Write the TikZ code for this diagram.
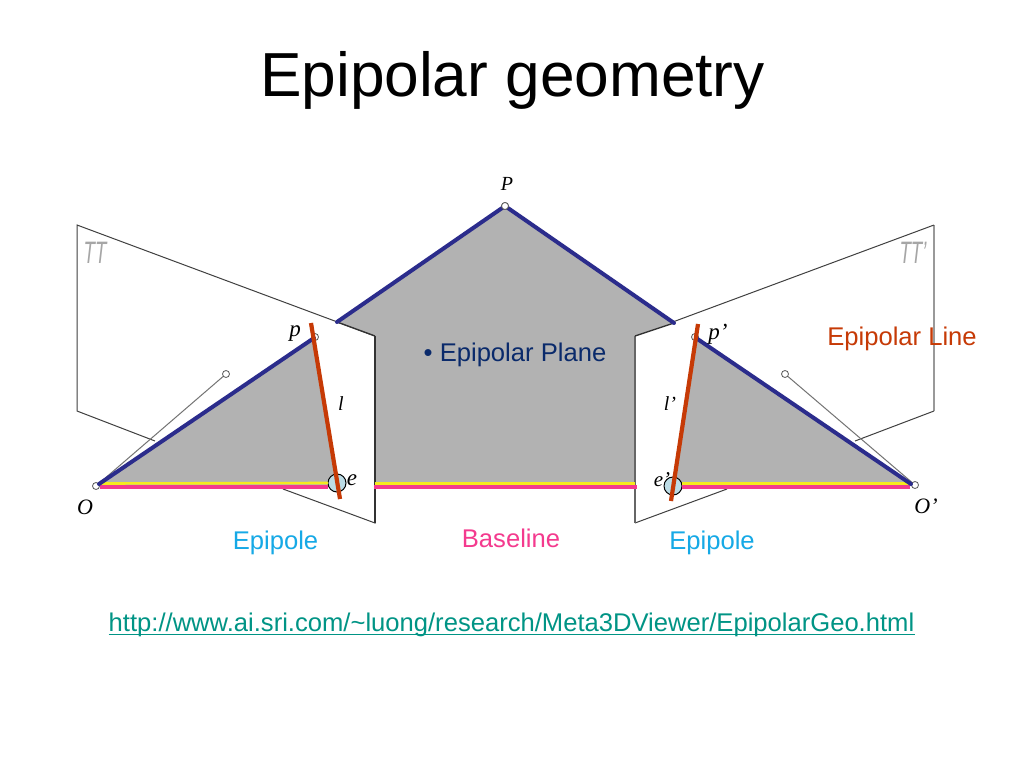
\documentclass[tikz,border=0pt]{standalone}
\usepackage{fontspec}
\setmainfont{Liberation Sans}
\newfontfamily\serifit[ItalicFont={Liberation Serif Italic}]{Liberation Serif}
\definecolor{gplane}{HTML}{B2B2B2}
\definecolor{navy}{HTML}{2B2C8C}
\definecolor{brick}{HTML}{C63A06}
\definecolor{pinkb}{HTML}{F43A8E}
\definecolor{yel}{HTML}{F5EB1E}
\definecolor{skyb}{HTML}{16A9E6}
\definecolor{teal2}{HTML}{009485}
\definecolor{dblue}{HTML}{0A2A6B}
\definecolor{circb}{HTML}{BCDCE6}
\tikzset{x=1pt,y=-1pt,
 frame/.style={draw=black!75,line width=1pt},
 blueln/.style={draw=navy,line width=4pt,line cap=round},
 redln/.style={draw=brick,line width=4.2pt},
 yelln/.style={draw=yel,line width=2.6pt},
 pinkln/.style={draw=pinkb,line width=3.6pt},
 ray/.style={draw=black!55,line width=1pt},
 dotn/.style={circle,draw=black!65,fill=white,line width=0.8pt,inner sep=0pt,minimum size=7pt},
 epin/.style={circle,draw=black,fill=circb,line width=1pt,inner sep=0pt,minimum size=18pt},
 lab/.style={inner sep=0pt,font=\serifit\itshape\fontsize{20}{20}\selectfont},
 piname/.style={inner sep=0pt,text=black!35,font=\fontsize{31}{31}\selectfont\itshape},
 captext/.style={inner sep=0pt,font=\fontsize{25.6}{25.6}\selectfont}}
\begin{document}
\begin{tikzpicture}
\useasboundingbox (0,0) rectangle (1024,768);
\fill[white] (0,0) rectangle (1024,768);
% coordinates
\coordinate (LA) at (77,225); \coordinate (LB) at (375,336); \coordinate (LC) at (375,523); \coordinate (LD) at (77,411);
\coordinate (LE) at (155,441); \coordinate (LF) at (283,489);
\coordinate (RA) at (934,225); \coordinate (RB) at (635,336); \coordinate (RC) at (635,523); \coordinate (RD) at (934,411);
\coordinate (RE) at (855,441); \coordinate (RF) at (727,489);
\coordinate (BL) at (337,322); \coordinate (BR) at (674,323);
% frames
\draw[frame] (LF) -- (LC) -- (LB) -- (LA) -- (LD) -- (LE);
\draw[draw=black!40,line width=1.1pt] (RA) -- (RD);
\draw[frame] (RE) -- (RD);
\draw[frame] (RF) -- (RC);
\draw[frame] (RA) -- (RB);
% gray
\fill[gplane] (BL) -- (505,206) -- (BR) -- (RB) -- (635,486) -- (375,486) -- (LB) -- cycle;
\fill[gplane] (98,486) -- (314,337) -- (337,486) -- cycle;
\fill[gplane] (696,337) -- (673,486) -- (912,486) -- cycle;
\draw[draw=black!80,line width=1.5pt] (LB) -- (LC);
\draw[draw=black!60,line width=2.6pt] (RB) -- (RC);
\draw[draw=black!80,line width=1.4pt] (BL) -- (LB);
\draw[draw=black!80,line width=1.4pt] (BR) -- (RB);
% rays and dots
\node[dotn] (O) at (96,486) {};
\node[dotn] (Oq) at (915,485) {};
\node[dotn] (P) at (505,206) {};
\node[dotn] (p1) at (315,337) {};
\node[dotn] (p2) at (695,337) {};
\node[dotn] (L1) at (226,374) {};
\node[dotn] (R1) at (785,374) {};
\draw[ray] (O) -- (L1);
\draw[ray] (Oq) -- (R1);
\node[epin] (e1) at (337,483) {};
\node[epin] (e2) at (673,486) {};
% baseline
\coordinate (YA) at (99,483.5); \coordinate (YB) at (328,483);
\coordinate (PA) at (100,487); \coordinate (PB) at (328,487);
\draw[yelln] (YA) -- (YB); \draw[pinkln] (PA) -- (PB);
\coordinate (YC) at (375,483.5); \coordinate (YD) at (635,483.5);
\coordinate (PC) at (374,487); \coordinate (PD) at (637,487);
\draw[yelln] (YC) -- (YD); \draw[pinkln] (PC) -- (PD);
\coordinate (YE) at (682,483.5); \coordinate (YF) at (910,483.5);
\coordinate (PE) at (682,487); \coordinate (PF) at (910,487);
\draw[yelln] (YE) -- (YF); \draw[pinkln] (PE) -- (PF);
% blue
\coordinate (OB) at (99,484); \coordinate (OqB) at (911,484);
\coordinate (PB1) at (314,338); \coordinate (PB2) at (696,338);
\draw[blueln] (OB) -- (PB1);
\draw[blueln] (OqB) -- (PB2);
\draw[blueln] (BL) -- (P.center) -- (BR);
\node[dotn] (Ptop) at (505,206) {};
% red
\coordinate (RL1) at (311,323); \coordinate (RL2) at (340,499);
\coordinate (RR1) at (698,324); \coordinate (RR2) at (671,501);
\draw[redln] (RL1) -- (RL2);
\draw[redln] (RR1) -- (RR2);
% labels
\node[inner sep=0pt,font=\fontsize{62.2}{62.2}\selectfont] (title) at (512.5,80) {Epipolar geometry};
\node[lab] (lP) at (507,184) {P};
\node[lab,font=\serifit\itshape\fontsize{23}{23}\selectfont] (lp) at (295,334) {p};
\node[lab,font=\serifit\itshape\fontsize{23}{23}\selectfont] (lpp) at (718,334) {p’};
\node[lab] (ll) at (341,404) {l};
\node[lab] (llp) at (670,404) {l’};
\node[lab,font=\serifit\itshape\fontsize{23}{23}\selectfont] (le) at (352,480) {e};
\node[lab,font=\serifit\itshape\fontsize{21}{21}\selectfont] (lep) at (662,480) {e’};
\node[lab,font=\serifit\itshape\fontsize{22}{22}\selectfont] (lO) at (85,507) {O};
\node[lab,font=\serifit\itshape\fontsize{22}{22}\selectfont] (lOp) at (926,506) {O’};
\node[piname] (pi1) at (95,253) {\scalebox{0.6}[1]{TT}};
\node[piname] (pi2) at (913,253) {\scalebox{0.6}[1]{TT’}};
\node[captext,text=dblue] (plane) at (515,354.5) {• Epipolar Plane};
\node[captext,text=brick] (eline) at (902,338.5) {Epipolar Line};
\node[captext,text=skyb] (ep1) at (275.5,543) {Epipole};
\node[captext,text=skyb] (ep2) at (712,543) {Epipole};
\node[captext,text=pinkb] (base) at (511,538) {Baseline};
\node[captext,text=teal2] (url) at (511.5,625) {http://www.ai.sri.com/\textasciitilde luong/research/Meta3DViewer/EpipolarGeo.html};
\draw[teal2,line width=1.2pt] ([yshift=-2.5pt]url.base west) -- ([yshift=-2.5pt]url.base east);
\end{tikzpicture}
\end{document}
